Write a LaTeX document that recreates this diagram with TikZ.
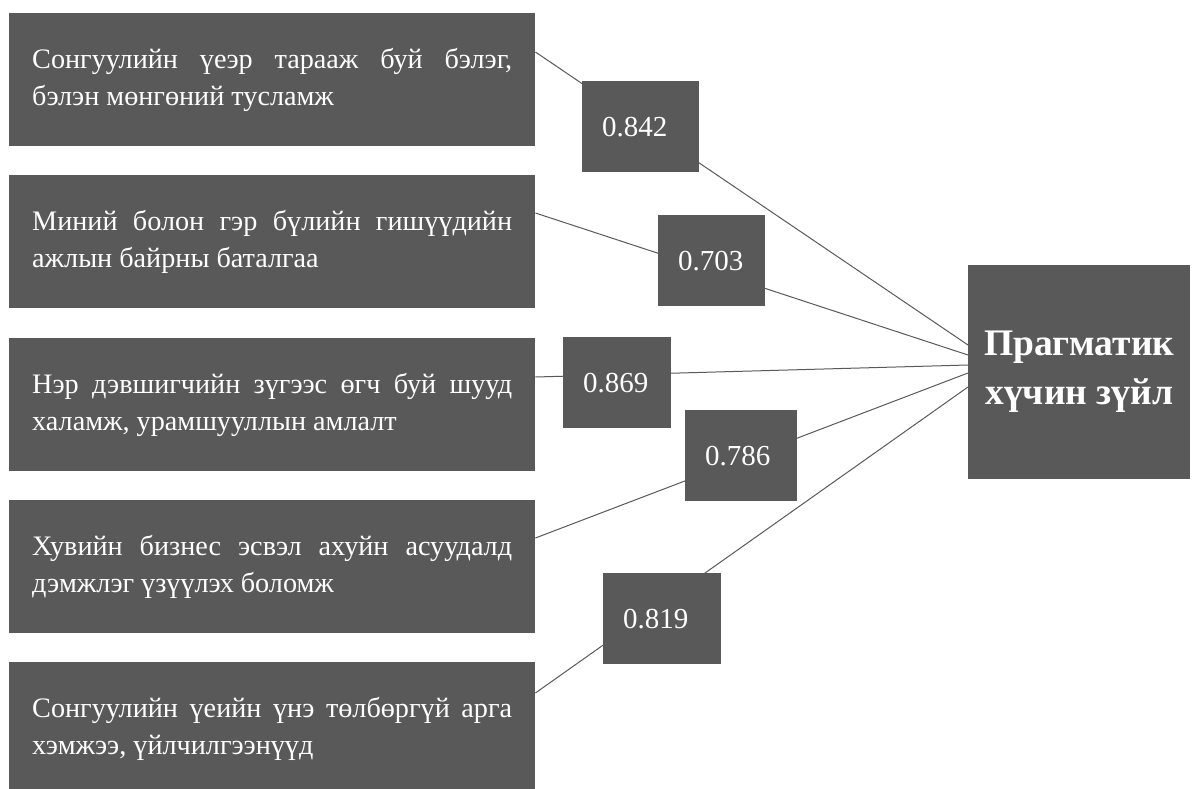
\documentclass[tikz,border=0pt]{standalone}
\usepackage{fontspec}
\setmainfont{Liberation Serif}
\definecolor{boxgray}{RGB}{89,89,89}
\newcommand\ltext[2]{\spaceskip=0pt\xspaceskip=0pt\makebox[480pt][s]{#1}\\#2}
\begin{document}
\begin{tikzpicture}[x=1pt,y=-1pt,
  lbox/.style={fill=boxgray, text=white, anchor=north west, minimum width=526pt, minimum height=133pt,
    text width=480pt, inner xsep=23pt, inner ysep=0pt, align=left, font=\fontsize{28.2}{37}\selectfont},
  vbox/.style={fill=boxgray, text=white, anchor=north west, minimum height=91pt,
    inner xsep=20pt, inner ysep=0pt, align=left, font=\fontsize{29}{35}\selectfont},
  rbox/.style={fill=boxgray, text=white, anchor=north west, minimum width=222pt, minimum height=214pt,
    align=center, font=\fontsize{37.5}{49}\selectfont\bfseries},
  conn/.style={draw=boxgray, line width=1pt}]
\useasboundingbox (0,0) rectangle (1197,789);
\node[lbox] (b1) at (9,13) {\ltext{Сонгуулийн үеэр тарааж буй бэлэг,}{бэлэн мөнгөний тусламж}};
\node[lbox] (b2) at (9,175) {\ltext{Миний болон гэр бүлийн гишүүдийн}{ажлын байрны баталгаа}};
\node[lbox] (b3) at (9,338) {\ltext{Нэр дэвшигчийн зүгээс өгч буй шууд}{халамж, урамшууллын амлалт}};
\node[lbox] (b4) at (9,500) {\ltext{Хувийн бизнес эсвэл ахуйн асуудалд}{дэмжлэг үзүүлэх боломж}};
\node[lbox] (b5) at (9,662) {\ltext{Сонгуулийн үеийн үнэ төлбөргүй арга}{хэмжээ, үйлчилгээнүүд}};
\node[rbox] (R) at (968,265) {Прагматик\\хүчин зүйл};
\draw[conn] ([yshift=-39pt]b1.north east) -- ([yshift=-80pt]R.north west);
\draw[conn] ([yshift=-38pt]b2.north east) -- ([yshift=-90pt]R.north west);
\draw[conn] ([yshift=-39pt]b3.north east) -- ([yshift=-100pt]R.north west);
\draw[conn] ([yshift=-38pt]b4.north east) -- ([yshift=-108pt]R.north west);
\draw[conn] ([yshift=-31pt]b5.north east) -- ([yshift=-122pt]R.north west);
\node[vbox, text width=77pt] (v1) at (582,81) {0.842};
\node[vbox, text width=67pt] (v2) at (658,215) {0.703};
\node[vbox, text width=68pt] (v3) at (563,337) {0.869};
\node[vbox, text width=72pt] (v4) at (685,410) {0.786};
\node[vbox, text width=78pt] (v5) at (603,573) {0.819};
\end{tikzpicture}
\end{document}
